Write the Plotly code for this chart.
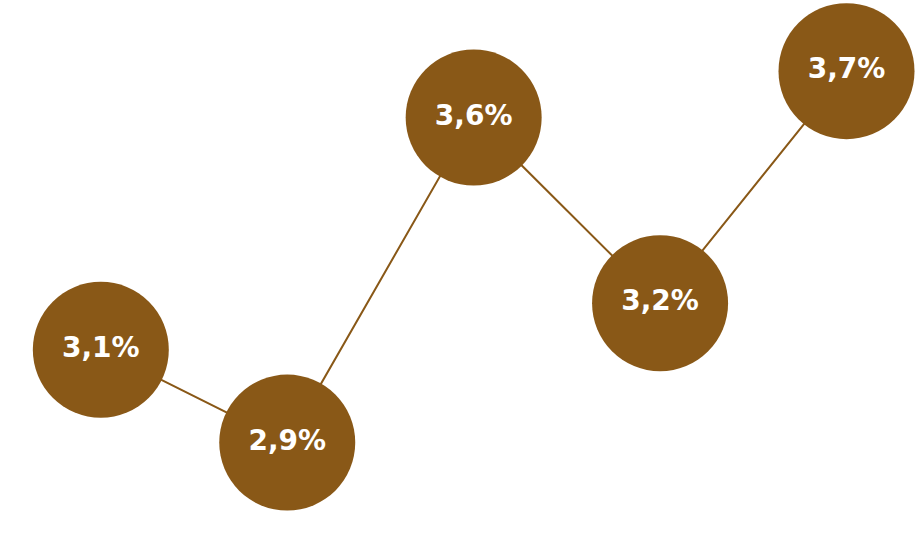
import plotly.graph_objects as go

periods = ["P1", "P2", "P3", "P4", "P5"]
values = [3.1, 2.9, 3.6, 3.2, 3.7]
labels = [f"{v:.1f}".replace(".", ",") + "%" for v in values]

brown = "#895817"

fig = go.Figure()
fig.add_trace(go.Scatter(
    x=list(range(len(periods))),
    y=values,
    mode="lines+markers+text",
    line=dict(color=brown, width=2),
    marker=dict(size=136, color=brown, line=dict(width=0)),
    text=labels,
    textposition="middle center",
    textfont=dict(family="DejaVu Sans", size=28, color="white", weight="bold"),
    hoverinfo="skip",
    cliponaxis=False,
))

fig.update_layout(
    width=922, height=549,
    margin=dict(l=0, r=0, t=0, b=0),
    paper_bgcolor="white", plot_bgcolor="white",
    showlegend=False,
    xaxis=dict(visible=False, range=[-0.5408, 4.405]),
    yaxis=dict(visible=False, range=[2.6708, 3.8532]),
)

fig.write_html("out.html")
